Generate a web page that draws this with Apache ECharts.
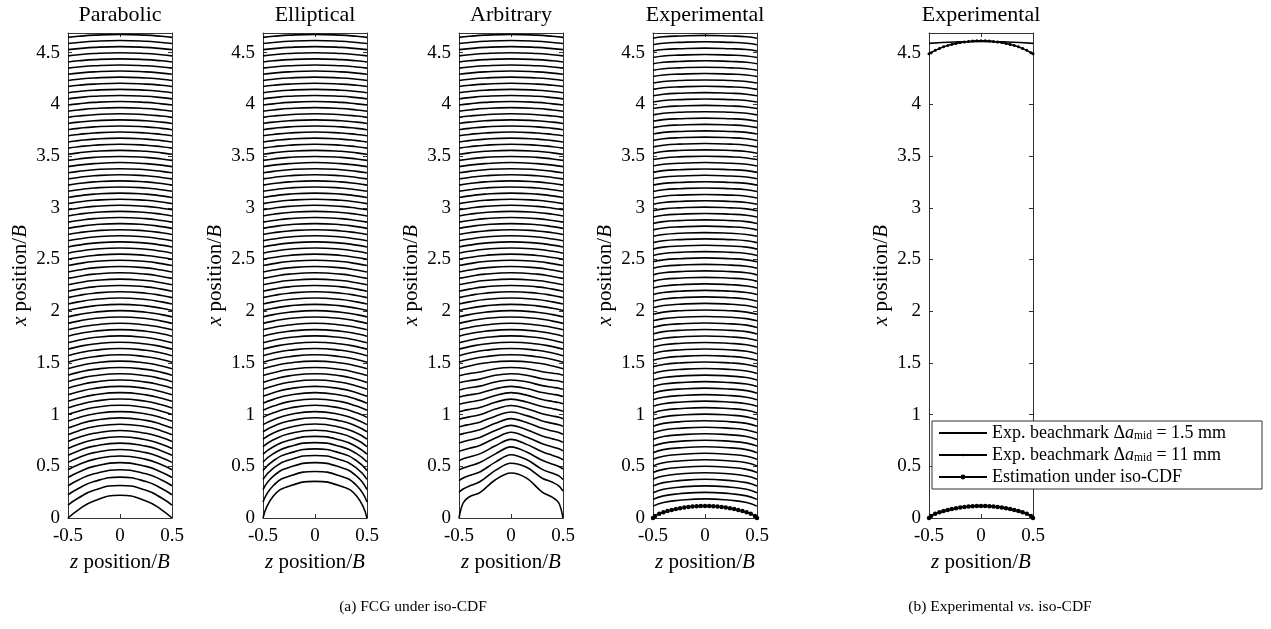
<!DOCTYPE html>
<html>
<head>
<meta charset="utf-8">
<script src="https://cdn.jsdelivr.net/npm/echarts@6.0.0/dist/echarts.min.js"></script>
<style>
  html, body { margin: 0; padding: 0; background: #fff; }
  #chart { width: 1271px; height: 629px; }
</style>
</head>
<body>
<div id="chart"></div>
<script>
// Crack front shapes under iso-CDF, five panels side by side.
// Symmetric fronts are stored as half profiles: x/B at z/B = 0, 0.25, 0.4, 0.5
const zHalf = [0, 0.25, 0.4, 0.5];

const panelTitles = ['Parabolic', 'Elliptical', 'Arbitrary', 'Experimental', 'Experimental'];
const captions = ['(a) FCG under iso-CDF', '(b) Experimental {i|vs.} iso-CDF'];
const yMax = 4.69;

// lower fronts of the parabolic initial flaw
const parabolicFronts = [
  [0.22, 0.165, 0.079, 0], [0.315, 0.268, 0.193, 0.125], [0.395, 0.353, 0.286, 0.225],
  [0.467, 0.428, 0.368, 0.312], [0.535, 0.499, 0.443, 0.392], [0.6, 0.567, 0.515, 0.467],
  [0.663, 0.632, 0.583, 0.538], [0.724, 0.695, 0.649, 0.606], [0.785, 0.757, 0.713, 0.673],
  [0.846, 0.819, 0.778, 0.739], [0.907, 0.882, 0.842, 0.805], [0.968, 0.944, 0.905, 0.87],
  [1.029, 1.006, 0.969, 0.935], [1.09, 1.068, 1.032, 1.0], [1.151, 1.129, 1.095, 1.064],
  [1.212, 1.191, 1.158, 1.128], [1.273, 1.253, 1.221, 1.192], [1.334, 1.314, 1.283, 1.255],
  [1.395, 1.376, 1.346, 1.318], [1.456, 1.437, 1.408, 1.381]
];

// lower fronts of the elliptical initial flaw
const ellipticalFronts = [
  [0.354, 0.307, 0.212, 0], [0.45, 0.403, 0.314, 0.155], [0.535, 0.488, 0.405, 0.275],
  [0.605, 0.561, 0.482, 0.373], [0.668, 0.626, 0.554, 0.46], [0.729, 0.69, 0.622, 0.541],
  [0.789, 0.752, 0.689, 0.617], [0.849, 0.814, 0.756, 0.691], [0.909, 0.876, 0.821, 0.763],
  [0.969, 0.938, 0.887, 0.834], [1.029, 0.999, 0.951, 0.903], [1.09, 1.062, 1.017, 0.973],
  [1.151, 1.125, 1.082, 1.042], [1.212, 1.187, 1.147, 1.11], [1.273, 1.249, 1.212, 1.177],
  [1.334, 1.312, 1.276, 1.244], [1.395, 1.374, 1.341, 1.31], [1.456, 1.436, 1.405, 1.377]
];

// fronts above x/B ~ 1.5: the three idealised flaws have converged to the same shape
const upperFronts = [
  [1.517, 1.499, 1.47, 1.444], [1.578, 1.56, 1.533, 1.507], [1.639, 1.622, 1.595, 1.57],
  [1.7, 1.683, 1.657, 1.633], [1.761, 1.745, 1.719, 1.695], [1.822, 1.806, 1.781, 1.758],
  [1.883, 1.867, 1.843, 1.82], [1.944, 1.929, 1.904, 1.882], [2.005, 1.99, 1.967, 1.945],
  [2.066, 2.051, 2.028, 2.007], [2.127, 2.113, 2.09, 2.069], [2.188, 2.174, 2.152, 2.131],
  [2.249, 2.235, 2.213, 2.193], [2.31, 2.296, 2.275, 2.255], [2.371, 2.358, 2.336, 2.317],
  [2.432, 2.419, 2.398, 2.379], [2.493, 2.48, 2.46, 2.441], [2.552, 2.539, 2.519, 2.501],
  [2.611, 2.599, 2.579, 2.561], [2.67, 2.658, 2.639, 2.621], [2.729, 2.717, 2.698, 2.681],
  [2.788, 2.776, 2.758, 2.741], [2.847, 2.836, 2.818, 2.801], [2.906, 2.895, 2.877, 2.861],
  [2.965, 2.954, 2.937, 2.921], [3.024, 3.013, 2.996, 2.98], [3.083, 3.072, 3.056, 3.04],
  [3.142, 3.132, 3.115, 3.1], [3.201, 3.191, 3.174, 3.159], [3.26, 3.25, 3.234, 3.219],
  [3.319, 3.309, 3.293, 3.279], [3.378, 3.368, 3.352, 3.338], [3.437, 3.427, 3.412, 3.398],
  [3.496, 3.487, 3.472, 3.458], [3.555, 3.546, 3.531, 3.517], [3.614, 3.605, 3.59, 3.577],
  [3.673, 3.664, 3.649, 3.636], [3.732, 3.723, 3.709, 3.696], [3.791, 3.782, 3.768, 3.755],
  [3.85, 3.841, 3.828, 3.815], [3.909, 3.9, 3.887, 3.874], [3.968, 3.96, 3.946, 3.934],
  [4.027, 4.019, 4.005, 3.993], [4.086, 4.078, 4.065, 4.053], [4.145, 4.137, 4.124, 4.112],
  [4.204, 4.196, 4.184, 4.172], [4.263, 4.255, 4.243, 4.231], [4.322, 4.314, 4.302, 4.291],
  [4.381, 4.373, 4.361, 4.35], [4.44, 4.433, 4.421, 4.41], [4.499, 4.492, 4.48, 4.469],
  [4.558, 4.551, 4.539, 4.529], [4.617, 4.61, 4.598, 4.588], [4.676, 4.669, 4.658, 4.648]
];

// arbitrary flaw: full profiles, not symmetric
const arbitraryZ = [-0.5, -0.46, -0.4, -0.3, -0.15, 0, 0.15, 0.3, 0.4, 0.46, 0.5];
const arbitraryFronts = [
  [0, 0.145, 0.205, 0.245, 0.37, 0.435, 0.385, 0.25, 0.2, 0.145, 0],
  [0.25, 0.28, 0.31, 0.35, 0.46, 0.53, 0.49, 0.385, 0.345, 0.31, 0.26],
  [0.362, 0.387, 0.412, 0.445, 0.54, 0.612, 0.565, 0.47, 0.432, 0.407, 0.372],
  [0.463, 0.483, 0.503, 0.536, 0.62, 0.688, 0.638, 0.558, 0.52, 0.498, 0.473],
  [0.555, 0.572, 0.59, 0.62, 0.698, 0.76, 0.712, 0.64, 0.605, 0.585, 0.563],
  [0.642, 0.657, 0.674, 0.701, 0.773, 0.829, 0.784, 0.719, 0.687, 0.669, 0.649],
  [0.725, 0.738, 0.754, 0.779, 0.846, 0.896, 0.854, 0.794, 0.765, 0.749, 0.731],
  [0.804, 0.816, 0.83, 0.854, 0.916, 0.961, 0.923, 0.867, 0.841, 0.826, 0.81],
  [0.881, 0.892, 0.905, 0.927, 0.985, 1.025, 0.99, 0.939, 0.915, 0.901, 0.886],
  [0.955, 0.966, 0.978, 0.999, 1.053, 1.088, 1.057, 1.009, 0.987, 0.974, 0.96],
  [1.028, 1.038, 1.05, 1.069, 1.119, 1.15, 1.122, 1.078, 1.057, 1.045, 1.032],
  [1.099, 1.109, 1.121, 1.139, 1.185, 1.212, 1.188, 1.146, 1.127, 1.116, 1.104],
  [1.169, 1.179, 1.19, 1.207, 1.25, 1.273, 1.252, 1.213, 1.196, 1.186, 1.174],
  [1.238, 1.248, 1.259, 1.275, 1.315, 1.334, 1.317, 1.28, 1.264, 1.255, 1.244],
  [1.307, 1.317, 1.328, 1.343, 1.38, 1.395, 1.381, 1.347, 1.332, 1.324, 1.313],
  [1.376, 1.386, 1.396, 1.411, 1.444, 1.456, 1.445, 1.414, 1.4, 1.392, 1.381]
];

// experimental flaw, fronts above the estimated initial front
const experimentalFronts = [
  [0.185, 0.171, 0.15, 0.115], [0.248, 0.234, 0.214, 0.18], [0.311, 0.298, 0.278, 0.245],
  [0.374, 0.361, 0.342, 0.31], [0.437, 0.425, 0.406, 0.375], [0.5, 0.488, 0.47, 0.44],
  [0.563, 0.551, 0.534, 0.504], [0.626, 0.614, 0.597, 0.568], [0.689, 0.678, 0.661, 0.632],
  [0.752, 0.741, 0.724, 0.696], [0.815, 0.804, 0.788, 0.76], [0.878, 0.867, 0.851, 0.824],
  [0.941, 0.93, 0.915, 0.888], [1.004, 0.994, 0.978, 0.952], [1.067, 1.057, 1.042, 1.016],
  [1.13, 1.12, 1.105, 1.08], [1.193, 1.183, 1.168, 1.143], [1.256, 1.246, 1.232, 1.207],
  [1.319, 1.309, 1.295, 1.271], [1.382, 1.372, 1.358, 1.334], [1.445, 1.436, 1.422, 1.398],
  [1.508, 1.499, 1.485, 1.462], [1.571, 1.562, 1.548, 1.525], [1.634, 1.625, 1.612, 1.589],
  [1.697, 1.688, 1.675, 1.653], [1.76, 1.751, 1.738, 1.716], [1.823, 1.814, 1.802, 1.78],
  [1.886, 1.877, 1.865, 1.843], [1.949, 1.941, 1.928, 1.907], [2.012, 2.004, 1.991, 1.97],
  [2.075, 2.067, 2.055, 2.034], [2.138, 2.13, 2.118, 2.097], [2.201, 2.193, 2.181, 2.161],
  [2.264, 2.256, 2.244, 2.224], [2.327, 2.319, 2.308, 2.288], [2.39, 2.382, 2.371, 2.351],
  [2.453, 2.445, 2.434, 2.415], [2.515, 2.507, 2.496, 2.477], [2.576, 2.569, 2.558, 2.539],
  [2.637, 2.63, 2.619, 2.6], [2.699, 2.692, 2.681, 2.663], [2.76, 2.753, 2.742, 2.724],
  [2.822, 2.815, 2.804, 2.786], [2.883, 2.876, 2.866, 2.848], [2.945, 2.938, 2.928, 2.91],
  [3.006, 2.999, 2.989, 2.971], [3.068, 3.061, 3.051, 3.034], [3.129, 3.122, 3.112, 3.095],
  [3.191, 3.184, 3.174, 3.157], [3.252, 3.245, 3.236, 3.219], [3.314, 3.307, 3.298, 3.281],
  [3.375, 3.368, 3.359, 3.342], [3.437, 3.43, 3.421, 3.404], [3.498, 3.492, 3.482, 3.466],
  [3.56, 3.554, 3.544, 3.528], [3.621, 3.615, 3.605, 3.589], [3.683, 3.677, 3.667, 3.651],
  [3.744, 3.738, 3.729, 3.713], [3.806, 3.8, 3.791, 3.775], [3.867, 3.861, 3.852, 3.836],
  [3.929, 3.923, 3.914, 3.898], [3.99, 3.984, 3.975, 3.96], [4.052, 4.046, 4.037, 4.022],
  [4.113, 4.107, 4.098, 4.083], [4.175, 4.169, 4.16, 4.145], [4.236, 4.23, 4.221, 4.206],
  [4.298, 4.292, 4.284, 4.269], [4.359, 4.353, 4.345, 4.33], [4.421, 4.415, 4.407, 4.392],
  [4.482, 4.476, 4.468, 4.453], [4.544, 4.538, 4.53, 4.516], [4.605, 4.599, 4.591, 4.577],
  [4.667, 4.661, 4.653, 4.639]
];

// measured beachmarks and the iso-CDF estimate (dense point sets)
const markZ = [-0.5, -0.48, -0.44, -0.4, -0.36, -0.32, -0.28, -0.24, -0.2, -0.16, -0.12, -0.08, -0.04,
  0, 0.04, 0.08, 0.12, 0.16, 0.2, 0.24, 0.28, 0.32, 0.36, 0.4, 0.44, 0.48, 0.5];
const estimationX = [0, 0.02, 0.042, 0.056, 0.067, 0.077, 0.086, 0.094, 0.101, 0.107, 0.111, 0.114, 0.1155,
  0.116, 0.1155, 0.114, 0.111, 0.107, 0.101, 0.094, 0.086, 0.077, 0.067, 0.056, 0.042, 0.02, 0];
const beachmark15X = [0, 0.022, 0.043, 0.057, 0.068, 0.078, 0.087, 0.095, 0.102, 0.107, 0.111, 0.114, 0.116,
  0.117, 0.116, 0.114, 0.111, 0.107, 0.102, 0.095, 0.087, 0.078, 0.068, 0.057, 0.043, 0.022, 0];
const beachmark11X = [4.49, 4.5, 4.522, 4.54, 4.556, 4.569, 4.58, 4.589, 4.597, 4.603, 4.608, 4.612, 4.614,
  4.615, 4.614, 4.612, 4.608, 4.603, 4.597, 4.589, 4.58, 4.569, 4.556, 4.54, 4.522, 4.5, 4.49];
const estimationTopZ = [-0.5, -0.25, 0, 0.25, 0.5];
const estimationTopX = [4.59, 4.603, 4.608, 4.603, 4.59];

const legendText = {
  beach15: 'Exp. beachmark Δ{i|a}{s|mid} = 1.5 mm',
  beach11: 'Exp. beachmark Δ{i|a}{s|mid} = 11 mm',
  estimate: 'Estimation under iso-CDF'
};

const FONT = 'Liberation Serif';
const INK = '#000';
const AXIS = '#333';
const panelLeft = [68, 263, 459, 653, 929];
const PLOT_W = 104;
// small dot with an invisible frame, so it stays small in the legend as well
const DOT = 'path://M0 0h0.01v0.01zM10 10h-0.01v-0.01zM5 2.5a2.5 2.5 0 1 0 0.001 0z';

const zFull = zHalf.slice(1).reverse().map(z => -z).concat(zHalf);
const mirror = f => {
  const v = f.slice(1).reverse().concat(f);
  return zFull.map((z, k) => [z, v[k]]);
};
const pairs = (zs, xs) => zs.map((z, k) => [z, xs[k]]);

const frontLine = (i, data, extra) => Object.assign({
  type: 'line', xAxisIndex: 2 * i, yAxisIndex: 2 * i, data: data,
  smooth: 0.5, symbol: 'none', silent: true,
  lineStyle: { color: INK, width: 1.6 }, itemStyle: { color: INK }
}, extra || {});

const series = [];
parabolicFronts.concat(upperFronts).forEach(f => series.push(frontLine(0, mirror(f))));
ellipticalFronts.concat(upperFronts).forEach(f => series.push(frontLine(1, mirror(f))));
arbitraryFronts.forEach(f => series.push(frontLine(2, pairs(arbitraryZ, f), { smooth: 0.35 })));
upperFronts.forEach(f => series.push(frontLine(2, mirror(f))));
experimentalFronts.forEach(f => series.push(frontLine(3, mirror(f))));
series.push(frontLine(3, pairs(markZ, estimationX), { name: 'estimate', symbol: 'circle', symbolSize: 4.5, smooth: false }));

series.push(frontLine(4, pairs(markZ, beachmark15X), { name: 'beach15', smooth: false }));
series.push(frontLine(4, pairs(markZ, estimationX), { name: 'estimate', symbol: 'circle', symbolSize: 4.5, smooth: false }));
series.push(frontLine(4, pairs(markZ, beachmark11X), { name: 'beach11', symbol: DOT, symbolSize: 6, smooth: false }));
series.push(frontLine(4, pairs(estimationTopZ, estimationTopX)));

const axisLineStyle = { color: AXIS, width: 1 };
const inTick = { show: true, inside: true, length: 4, lineStyle: axisLineStyle };
const nameStyle = {
  fontFamily: FONT, fontSize: 21, color: '#000',
  rich: { i: { fontFamily: FONT, fontSize: 21, fontStyle: 'italic', color: '#000' } }
};
const tickLabel = { fontFamily: FONT, fontSize: 19, color: '#000' };

const grid = [], xAxis = [], yAxis = [];
panelLeft.forEach((left, i) => {
  grid.push({ left: left, top: 33, width: PLOT_W, height: 485 });
  const xBase = {
    type: 'value', gridIndex: i, min: -0.5, max: 0.5, interval: 0.5,
    axisLine: { show: true, onZero: false, lineStyle: axisLineStyle },
    axisTick: inTick, splitLine: { show: false }
  };
  xAxis.push(Object.assign({}, xBase, {
    position: 'bottom',
    axisLabel: Object.assign({ margin: 9 }, tickLabel),
    name: '{i|z} position/{i|B}', nameLocation: 'middle', nameGap: 34, nameTextStyle: nameStyle
  }));
  xAxis.push(Object.assign({}, xBase, { position: 'top', axisLabel: { show: false } }));

  const yBase = {
    type: 'value', gridIndex: i, min: 0, max: yMax, interval: 0.5,
    axisLine: { show: true, onZero: false, lineStyle: axisLineStyle },
    axisTick: inTick, splitLine: { show: false }
  };
  yAxis.push(Object.assign({}, yBase, {
    position: 'left',
    axisLabel: Object.assign({
      margin: 8,
      formatter: v => (Math.abs(v * 2 - Math.round(v * 2)) < 1e-6 ? String(+v.toFixed(1)) : '')
    }, tickLabel),
    name: '{i|x} position/{i|B}', nameLocation: 'middle', nameGap: 37, nameTextStyle: nameStyle
  }));
  yAxis.push(Object.assign({}, yBase, { position: 'right', axisLabel: { show: false } }));
});

const graphic = panelTitles.map((t, i) => ({
  type: 'text', x: panelLeft[i] + PLOT_W / 2, y: 15, silent: true,
  style: { text: t, fontFamily: FONT, fontSize: 22, fill: '#000', align: 'center', verticalAlign: 'middle' }
}));
[413, 1000].forEach((cx, k) => graphic.push({
  type: 'text', x: cx, y: 607, silent: true,
  style: {
    text: captions[k], fontFamily: FONT, fontSize: 15.5, fill: '#000', align: 'center', verticalAlign: 'middle',
    rich: { i: { fontFamily: FONT, fontSize: 15.5, fontStyle: 'italic', fill: '#000' } }
  }
}));

const chart = echarts.init(document.getElementById('chart'), null, { renderer: 'canvas' });
chart.setOption({
  animation: false,
  backgroundColor: '#fff',
  grid: grid,
  xAxis: xAxis,
  yAxis: yAxis,
  legend: {
    data: [{ name: 'beach15', itemStyle: { opacity: 0 } }, { name: 'beach11' }, { name: 'estimate' }],
    orient: 'vertical', left: 932, top: 421,
    padding: [3, 6, 3, 6], itemGap: 4, itemWidth: 48, itemHeight: 6,
    borderColor: AXIS, borderWidth: 1, borderRadius: 0, backgroundColor: '#fff',
    selectedMode: false,
    formatter: name => legendText[name],
    textStyle: {
      width: 264, fontFamily: FONT, fontSize: 18, color: '#000', lineHeight: 18,
      rich: {
        i: { fontFamily: FONT, fontSize: 18, fontStyle: 'italic', color: '#000', lineHeight: 18 },
        s: { fontFamily: FONT, fontSize: 11.5, color: '#000', verticalAlign: 'bottom', lineHeight: 8 }
      }
    }
  },
  graphic: graphic,
  series: series
});
</script>
</body>
</html>
